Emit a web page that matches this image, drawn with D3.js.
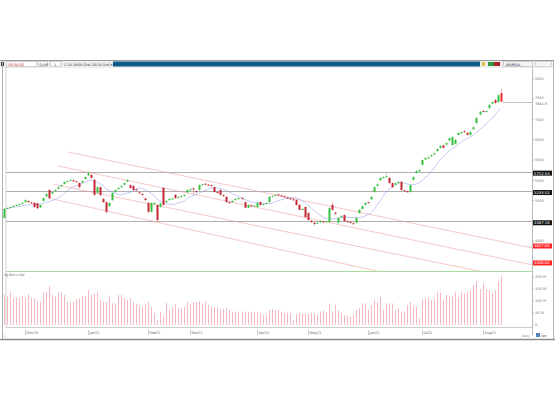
<!DOCTYPE html>
<html><head><meta charset="utf-8">
<script src="https://cdn.jsdelivr.net/npm/d3@7"></script>
<style>body{margin:0;background:#fff}svg{display:block}text{font-family:"DejaVu Sans",sans-serif}</style>
</head><body><svg id="c" width="555" height="400"></svg>
<script>
const openP=[4570,4800,4825,4850,4875,4895,4920,4960,4990,4955,
4940,4930,4830,4990,5100,5260,5170,5230,5290,5350,
5410,5465,5490,5500,5475,5430,5440,5530,5620,5630,
5510,5190,5330,5040,4960,4860,5010,5220,5280,5330,
5390,5470,5380,5360,5275,5200,5160,5050,4940,4720,
4910,4890,4840,5310,4960,5010,5030,5140,5070,5090,
5120,5200,5265,5300,5230,5260,5380,5415,5395,5375,
5330,5210,5260,5130,5090,4960,4960,5010,5040,5060,
4960,4820,4885,4855,4840,4960,4895,4920,4960,5095,
5120,5150,5125,5105,5075,5055,5030,5010,4890,4770,
4840,4690,4500,4450,4430,4460,4485,4475,4470,4890,
4700,4450,4590,4640,4490,4470,4440,4450,4690,4790,
4890,4960,5030,5210,5360,5500,5560,5580,5560,5430,
5390,5430,5460,5250,5230,5210,5510,5680,5720,5880,
6010,6040,6090,6140,6220,6300,6360,6380,6480,6370,
6400,6620,6660,6710,6670,6620,6760,6910,7120,7210,
7190,7280,7390,7480,7430,7650];
const highP=[4810,4830,4855,4880,4905,4925,4955,5040,5000,4970,
4960,4950,4905,5080,5180,5280,5230,5280,5350,5400,
5480,5500,5530,5520,5490,5450,5500,5600,5730,5650,
5530,5350,5350,5060,4980,4960,5210,5280,5330,5380,
5450,5530,5400,5380,5290,5220,5180,5070,4960,4960,
4960,4910,4950,5330,5010,5060,5070,5160,5110,5130,
5160,5280,5300,5320,5250,5400,5420,5430,5410,5390,
5350,5230,5280,5150,5110,4980,5010,5060,5080,5080,
4980,4910,4900,4890,4960,4980,4930,4960,5110,5130,
5160,5170,5140,5120,5090,5070,5050,5030,4910,4810,
4860,4710,4520,4470,4470,4510,4500,4510,4830,4960,
4720,4590,4640,4660,4510,4490,4460,4590,4790,4880,
4960,4970,5110,5350,5420,5580,5600,5680,5580,5450,
5450,5480,5480,5270,5250,5400,5600,5750,5770,6020,
6070,6090,6140,6190,6290,6370,6380,6440,6560,6590,
6520,6690,6710,6730,6690,6710,6830,7060,7210,7230,
7230,7380,7450,7500,7620,7750];
const lowP=[4550,4790,4810,4835,4860,4880,4905,4940,4940,4920,
4820,4780,4810,4970,5080,5040,5150,5210,5270,5330,
5390,5450,5470,5460,5440,5300,5420,5510,5600,5540,
5110,5170,5110,4940,4670,4840,4990,5200,5260,5310,
5370,5450,5290,5230,5240,5160,5120,4990,4690,4700,
4890,4470,4820,4870,4940,4990,5010,5040,5050,5070,
5100,5180,5240,5160,5190,5240,5360,5380,5360,5340,
5190,5170,5120,5090,4940,4920,4940,4990,5020,5020,
4800,4800,4850,4840,4820,4870,4880,4900,4940,5080,
5100,5120,5090,5070,5040,5020,4990,4870,4750,4750,
4570,4500,4440,4380,4410,4440,4450,4460,4450,4750,
4650,4430,4570,4470,4450,4430,4400,4430,4670,4770,
4870,4920,5010,5190,5340,5480,5540,5560,5410,5310,
5370,5410,5240,5210,5190,5190,5490,5660,5700,5860,
5990,6020,6070,6120,6200,6280,6280,6360,6460,6350,
6380,6600,6640,6670,6600,6600,6740,6890,7100,7170,
7170,7260,7370,7390,7410,7430];
const closeP=[4790,4815,4840,4865,4890,4910,4940,5010,4960,4940,
4840,4810,4890,5060,5160,5060,5210,5260,5330,5380,
5460,5480,5510,5480,5460,5330,5480,5580,5680,5560,
5140,5330,5140,4960,4720,4940,5190,5260,5310,5360,
5430,5510,5310,5260,5260,5180,5140,5010,4720,4940,
4940,4520,4930,4890,4990,5040,5050,5060,5090,5110,
5140,5260,5280,5280,5210,5380,5400,5400,5380,5360,
5210,5190,5140,5110,4960,4940,4990,5040,5060,5040,
4820,4890,4870,4870,4940,4890,4910,4940,5090,5110,
5140,5140,5110,5090,5060,5040,5010,4890,4770,4790,
4590,4520,4470,4420,4450,4490,4470,4490,4810,4770,
4670,4570,4620,4490,4470,4450,4420,4570,4770,4860,
4940,4940,5090,5330,5400,5560,5580,5600,5430,5330,
5430,5460,5260,5230,5210,5380,5580,5730,5750,6000,
6050,6070,6120,6170,6270,6350,6300,6420,6540,6570,
6500,6670,6690,6690,6620,6690,6810,7040,7190,7190,
7210,7360,7430,7410,7600,7441.5];
const volume=[125,118,139,111,114,111,121,115,129,114,
111,104,97,136,139,163,125,118,136,136,
125,97,93,97,107,111,118,121,146,125,
129,136,104,97,97,122,90,90,125,125,
111,104,111,94,90,83,76,86,97,76,
49,21,56,35,93,63,73,88,70,70,
76,97,86,96,97,97,90,97,83,76,
74,72,65,68,70,63,56,56,54,56,
56,55,56,54,53,49,42,39,63,67,
60,63,56,49,52,49,21,45,52,49,
49,45,52,49,42,56,60,52,90,56,
83,60,49,42,38,35,42,63,70,90,
90,63,83,104,97,118,63,90,90,90,
63,70,56,56,83,97,76,76,28,108,
111,115,104,107,136,135,104,125,118,120,
139,115,139,132,139,146,167,184,150,174,
149,146,132,146,181,206];
const monthTicks=[7,28,48,62,84,101,121,139,159];
const monthLabels=["Dec20","Jan21","Feb21","Mar21","Apr21","May21","Jun21","Jul21","Aug21"];
const priceTicks=[4000,4500,5000,5500,6000,6500,7000,7500,8000];
const priceTickShown=[true,false,true,true,true,true,true,true,true];
const volTicks=[0,50,100,150,200];
const volTickLabels=["0","50 M","100 M","150 M","200 M"];
const levelPrices=[5712.53,5233.52,4487.18];
const chanStartIdx=[21.4,18.1,16.7,14.8];
const chanStartPrice=[6198,5852,5398,5062];
const chanEndIdx=[175.6,175.6,175.6,175.6];
const chanEndPrice=[3827,3408,2988,2403];
const maPeriod=10;

const svg=d3.select("#c");
const N=closeP.length;
const L=6,R=532,T=67,B=271,VT=272,VB=327;
const x=d3.scaleLinear().domain([0,N-1]).range([3.5,500.6]);
const y=d3.scaleLinear().domain([4000,8000]).range([241,79]);
const yv=d3.scaleLinear().domain([0,200]).range([325,277]);

svg.append("rect").attr("x",0).attr("y",0).attr("width",555).attr("height",400).attr("fill","#fff");
svg.append("rect").attr("x",0).attr("y",60).attr("width",554).attr("height",8).attr("fill","#ededed");
svg.append("line").attr("x1",0).attr("x2",554).attr("y1",60.5).attr("y2",60.5).attr("stroke","#9a9a9a");
svg.append("rect").attr("x",113).attr("y",61.5).attr("width",367).attr("height",5).attr("fill","#0d5b88");
const tb=svg.append("g");
tb.append("rect").attr("x",1).attr("y",62).attr("width",3).attr("height",4).attr("fill","#334");
tb.append("rect").attr("x",6.5).attr("y",61.5).attr("width",30).attr("height",5).attr("fill","#fff").attr("stroke","#aaa").attr("stroke-width",0.5);
tb.append("text").attr("x",8).attr("y",65.6).attr("font-size",3.6).attr("fill","#c33").text("ISE/N100");
tb.append("rect").attr("x",38.5).attr("y",61.5).attr("width",9).attr("height",5).attr("fill","#fff").attr("stroke","#aaa").attr("stroke-width",0.5);
tb.append("text").attr("x",39.5).attr("y",65.6).attr("font-size",3.6).attr("fill","#444").text("DAM");
tb.append("rect").attr("x",50.5).attr("y",61.5).attr("width",10).attr("height",5).attr("fill","#fff").attr("stroke","#aaa").attr("stroke-width",0.5);
tb.append("text").attr("x",54).attr("y",65.6).attr("font-size",3.6).attr("fill","#444").text("1");
tb.append("text").attr("x",64).attr("y",65.6).attr("font-size",3.4).attr("fill","#444").text("1.28  19/08  Oral  10/18  Oral ▾");
tb.append("rect").attr("x",482).attr("y",62).attr("width",3).attr("height",4).attr("fill","#e8c040");
tb.append("rect").attr("x",488).attr("y",62).attr("width",6).attr("height",4).attr("fill","#2a9a3a");
tb.append("rect").attr("x",494).attr("y",62).attr("width",6).attr("height",4).attr("fill","#b02030");
tb.append("rect").attr("x",503.5).attr("y",61.5).attr("width",29).attr("height",5).attr("fill","#f4f4f4").attr("stroke","#aaa").attr("stroke-width",0.5);
tb.append("text").attr("x",506).attr("y",65.6).attr("font-size",3.6).attr("fill","#335").text("MARKAL");
tb.append("rect").attr("x",535.5).attr("y",61.5).attr("width",16).attr("height",5).attr("fill","#f4f4f4").attr("stroke","#bbb").attr("stroke-width",0.5);

svg.append("line").attr("x1",2.5).attr("x2",2.5).attr("y1",61).attr("y2",340).attr("stroke","#b0b0b0");
svg.append("line").attr("x1",6).attr("x2",6).attr("y1",67).attr("y2",328).attr("stroke","#c8c8c8").attr("stroke-width",0.8);
svg.append("line").attr("x1",553.5).attr("x2",553.5).attr("y1",61).attr("y2",340).attr("stroke","#b8b8b8");
svg.append("line").attr("x1",0).attr("x2",555).attr("y1",339.5).attr("y2",339.5).attr("stroke","#8c8c8c").attr("stroke-width",1.6);
svg.append("line").attr("x1",L).attr("x2",R).attr("y1",271.5).attr("y2",271.5).attr("stroke","#a8dca0");
svg.append("line").attr("x1",L).attr("x2",R).attr("y1",VB+0.5).attr("y2",VB+0.5).attr("stroke","#c0c0c0").attr("stroke-width",0.8);

const defs=svg.append("defs");
defs.append("clipPath").attr("id","mainClip").append("rect").attr("x",L).attr("y",T).attr("width",R-L).attr("height",B-T);

const lv=svg.append("g");
levelPrices.forEach(p=>{
  lv.append("line").attr("x1",L).attr("x2",R).attr("y1",Math.round(y(p))+0.5).attr("y2",Math.round(y(p))+0.5).attr("stroke","#a6a6a6").attr("stroke-width",0.9);
});

const ch=svg.append("g").attr("clip-path","url(#mainClip)");
chanStartIdx.forEach((s,k)=>{
  ch.append("line").attr("x1",x(s)).attr("y1",y(chanStartPrice[k])).attr("x2",x(chanEndIdx[k])).attr("y2",y(chanEndPrice[k]))
    .attr("stroke","#f4a0a0").attr("stroke-width",0.6);
});

const ma=closeP.map((c,i)=>{const a=closeP.slice(Math.max(0,i-maPeriod+1),i+1);return d3.mean(a);});
svg.append("path").attr("d",d3.line().x((d,i)=>x(i)).y(d=>y(d))(ma)).attr("fill","none").attr("stroke","#9aa6f2").attr("stroke-width",0.6);

const cg=svg.append("g");
closeP.forEach((c,i)=>{
  const o=openP[i],up=c>=o;
  const col=i===N-1?"#f02828":(up?"#36c03f":"#c42634");
  const xc=Math.round(x(i));
  cg.append("line").attr("x1",xc+0.5).attr("x2",xc+0.5).attr("y1",y(highP[i])).attr("y2",y(lowP[i])).attr("stroke",up?"#86d486":"#d67a80").attr("stroke-width",0.6);
  const y1=y(Math.max(o,c)),y2=y(Math.min(o,c));
  cg.append("rect").attr("x",xc-0.5).attr("y",y1).attr("width",2).attr("height",Math.max(1,y2-y1)).attr("fill",col);
});

const lp=closeP[N-1];
svg.append("line").attr("x1",x(N-1)+2).attr("x2",R).attr("y1",Math.round(y(lp))+0.5).attr("y2",Math.round(y(lp))+0.5).attr("stroke","#b0b0b0").attr("stroke-width",0.8);

const vg=svg.append("g");
volume.forEach((v,i)=>{
  const xc=Math.round(x(i))+0.5;
  vg.append("line").attr("x1",xc).attr("x2",xc).attr("y1",yv(0)).attr("y2",yv(v)).attr("stroke","#f7b0b9").attr("stroke-width",0.9);
});
svg.append("text").attr("x",4).attr("y",276).attr("font-size",3.4).attr("fill","#666").text("Vg Bm x Vol");

const ax=svg.append("g");
ax.append("line").attr("x1",R+0.5).attr("x2",R+0.5).attr("y1",T).attr("y2",VB+8).attr("stroke","#b8b8b8");
priceTicks.forEach((p,k)=>{
  const yy=y(p);
  ax.append("line").attr("x1",R).attr("x2",R+2).attr("y1",yy).attr("y2",yy).attr("stroke","#999").attr("stroke-width",0.5);
  if(priceTickShown[k]){
    const dy=p===7500?-0.6:1.3;
    ax.append("text").attr("x",R+3).attr("y",yy+dy).attr("font-size",3.4).attr("fill","#777").text(p);
  }
});
volTicks.forEach((v,k)=>{
  const yy=yv(v);
  ax.append("line").attr("x1",R).attr("x2",R+2).attr("y1",yy).attr("y2",yy).attr("stroke","#999").attr("stroke-width",0.5);
  ax.append("text").attr("x",R+3).attr("y",yy+1.3).attr("font-size",3.6).attr("fill","#777").text(volTickLabels[k]);
});
ax.append("text").attr("x",R+3).attr("y",y(lp)+3.6).attr("font-size",3.4).attr("fill","#555").text(d3.format(".1f")(lp));
levelPrices.forEach(p=>{
  const yy=y(p)+1.5;
  ax.append("rect").attr("x",R+1).attr("y",yy-2.5).attr("width",19).attr("height",5).attr("fill","#111");
  ax.append("text").attr("x",R+2).attr("y",yy+1.4).attr("font-size",3.8).attr("fill","#fff").text(d3.format(".2f")(p));
});
[0,1].forEach(k=>{
  const p=chanEndPrice[k];
  const yy=y(p)-2;
  ax.append("rect").attr("x",R+1).attr("y",yy-2.5).attr("width",19).attr("height",5).attr("fill","#ff2424");
  ax.append("text").attr("x",R+2).attr("y",yy+1.4).attr("font-size",3.8).attr("fill","#fff").text(d3.format(".2f")(p));
});

const xa=svg.append("g");
monthTicks.forEach((t,k)=>{
  const xx=Math.round(x(t))+0.5;
  xa.append("line").attr("x1",xx).attr("x2",xx).attr("y1",VB+3).attr("y2",VB+8).attr("stroke","#999").attr("stroke-width",0.5);
  xa.append("text").attr("x",xx+1).attr("y",VB+7).attr("font-size",3.6).attr("fill","#666").text(monthLabels[k]);
});
svg.append("text").attr("x",3).attr("y",337).attr("font-size",3.4).attr("fill","#777").text("-|");
svg.append("text").attr("x",522).attr("y",337).attr("font-size",3.4).attr("fill","#777").text("Axis");
svg.append("rect").attr("x",536).attr("y",333).attr("width",4).attr("height",4).attr("fill","#5a7fc0");
svg.append("text").attr("x",541).attr("y",337).attr("font-size",3.4).attr("fill","#446").text("Var");
</script></body></html>
